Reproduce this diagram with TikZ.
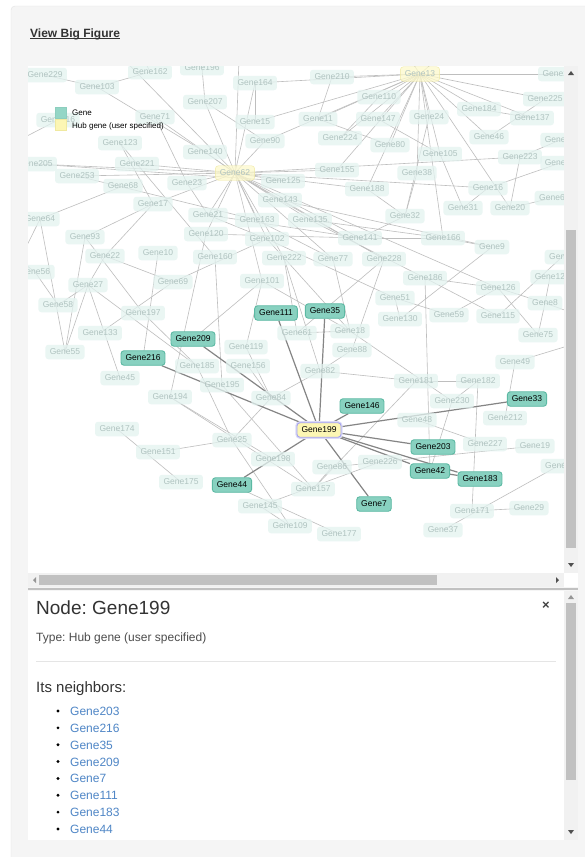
\documentclass[tikz,border=0pt]{standalone}
\usepackage{fontspec}
\setmainfont{Liberation Sans}
\frenchspacing
\definecolor{panelgray}{HTML}{F5F5F5}
\definecolor{panelline}{HTML}{E3E3E3}
\definecolor{genefill}{HTML}{E3F3F0}
\definecolor{genetext}{HTML}{B0C3C0}
\definecolor{geneteal}{HTML}{88D1C0}
\definecolor{genetealdark}{HTML}{5CB9A3}
\definecolor{hubfill}{HTML}{FCF6B4}
\definecolor{hubline}{HTML}{F0E9A0}
\definecolor{hubglow}{HTML}{A4A2EE}
\definecolor{linkgray}{HTML}{BEBEBE}
\definecolor{hotgray}{HTML}{858585}
\definecolor{trackgray}{HTML}{F1F1F1}
\definecolor{thumbgray}{HTML}{C1C1C1}
\definecolor{arrowgray}{HTML}{505050}
\definecolor{headgray}{HTML}{333333}
\definecolor{linkblue}{HTML}{4F86C6}
\newcommand{\genefont}{\fontsize{8.5}{9}\selectfont}
\pgfdeclarelayer{panel}
\pgfdeclarelayer{edges}
\pgfsetlayers{panel,edges,main}
\tikzset{
  gene/.style = {rounded corners=3pt, fill=genefill, fill opacity=0.75, text opacity=1,
                 text=genetext, font=\genefont, inner xsep=4.5pt, inner ysep=0pt, minimum height=14.5pt},
  hubfaded/.style = {gene, fill=hubfill!70, draw=hubline},
  genehot/.style = {gene, fill=geneteal, fill opacity=1, draw=genetealdark, line width=0.9pt, text=black},
  hubhot/.style = {genehot, fill=hubfill, draw=hubglow, preaction={draw=hubglow!40, line width=3.2pt}},
  link/.style = {draw=linkgray, line width=0.6pt},
  hotlink/.style = {draw=hotgray, line width=1.2pt},
  label/.style = {anchor=base west, inner sep=0pt, text=headgray},
  item/.style = {label, text=linkblue, font=\fontsize{12}{14}\selectfont}
}

\begin{document}
\begin{tikzpicture}[x=1pt, y=-1pt]
  \useasboundingbox (0,0) rectangle (584,857);
  \begin{pgfonlayer}{panel}
    \fill[white] (0,0) rectangle (584,857);
    \draw[panelline, fill=panelgray, rounded corners=4pt] (11,6) rectangle (610,880);
    \fill[white] (28,66) rectangle (564,573);
    \fill[white] (28,591) rectangle (564,840);
  \end{pgfonlayer}

  \node[label, font=\bfseries\fontsize{12}{14}\selectfont] (viewbig) at (30,37) {View Big Figure};
  \draw[headgray, line width=0.8pt] ([yshift=-1.6pt]viewbig.base west) -- ([yshift=-1.6pt]viewbig.base east);

  % network
  \begin{scope}
    \clip (28,66) rectangle (564,573);
    \foreach \n/\x/\y in {229/45/75, 162/150/72, 196/202/68, 103/97/87, 164/255/83, 207/205/102,
        71/155/117, 116/58/120, 15/255/122, 123/120/143, 90/265/141, 140/205/152, 205/35/164,
        221/137/164, 253/77/176, 23/187/183, 68/123/186, 125/283/181, 143/280/200, 17/153/204,
        64/40/219, 21/208/215, 163/257/220, 93/85/237, 120/206/234, 102/267/239, 22/105/256,
        10/158/253, 160/215/257, 222/284/258, 56/35/272, 27/88/285, 69/173/282, 101/262/281,
        58/58/305, 197/143/313, 133/100/333, 55/65/352, 119/246/347, 185/197/366, 156/248/366,
        45/120/378, 195/222/385, 194/170/397, 84/271/398,
        210/332/77, 232/560/74, 110/379/97, 225/545/99, 184/479/109, 11/318/119, 147/378/119,
        24/429/117, 137/532/118, 224/340/138, 46/489/137, 26/560/140, 80/390/145, 105/440/154,
        223/520/157, 81/560/163, 155/337/170, 38/417/173, 188/367/189, 16/488/188, 6/552/198,
        31/463/208, 20/510/208, 32/405/216, 135/310/220, 141/360/238, 166/443/238, 9/492/247,
        77/333/259, 228/384/259, 4/562/257, 186/425/278, 12/550/277, 126/498/288, 51/395/298,
        8/545/303, 130/400/319, 59/449/315, 115/498/316, 61/297/333, 18/350/331, 75/538/335,
        88/352/350, 82/320/371, 49/515/362, 181/416/381, 182/478/381, 230/452/401,
        48/417/420, 212/505/418, 227/485/444, 19/535/446, 226/380/462, 86/332/467, 5/558/466,
        157/313/489, 171/472/511, 29/529/508, 109/290/526, 37/443/530, 177/339/534,
        174/117/429, 151/158/452, 25/232/440, 198/273/459, 175/181/482, 145/260/506}
      \node[gene] (g\n) at (\x,\y) {Gene\n};
    \node[hubfaded] (g62) at (235,173) {Gene62};
    \node[hubfaded] (g13) at (420,74) {Gene13};

    \node[genehot] (g111) at (276,313) {Gene111};
    \node[genehot] (g35) at (325,311) {Gene35};
    \node[genehot] (g209) at (193,339) {Gene209};
    \node[genehot] (g216) at (143,358) {Gene216};
    \node[genehot] (g146) at (362,406) {Gene146};
    \node[genehot] (g33) at (527,399) {Gene33};
    \node[genehot] (g203) at (433,447) {Gene203};
    \node[genehot] (g42) at (430,471) {Gene42};
    \node[genehot] (g183) at (480,479) {Gene183};
    \node[genehot] (g7) at (374,504) {Gene7};
    \node[genehot] (g44) at (232,485) {Gene44};
    \node[hubhot] (g199) at (319,430) {Gene199};

    % legend
    \draw[genetealdark!70, fill=geneteal!90] (55,107) rectangle (66,118);
    \draw[hubline, fill=hubfill] (55,119) rectangle (66,130);
    \node[label, text=black, font=\fontsize{8}{9}\selectfont] (leggene) at (72,115) {Gene};
    \node[label, text=black, font=\fontsize{8}{9}\selectfont] (leghub) at (72,128) {Hub gene (user specified)};
  \end{scope}

  \coordinate (a1) at (95,30);
  \coordinate (a2) at (130,30);
  \coordinate (a5) at (470,30);
  \coordinate (a8) at (620,200);
  \coordinate (a9) at (620,330);
  \coordinate (a10) at (620,430);
  \coordinate (a11) at (0,300);
  \coordinate (a12) at (0,150);
  \coordinate (a13) at (0,245);
  \coordinate (a14) at (240,30);
  \coordinate (a16) at (390,30);

  \begin{pgfonlayer}{edges}
    \clip (28,66) rectangle (564,573);
    \foreach \a/\b in {g62/g205, g62/g253, g62/g23, g62/g140, g62/g71, g62/g221, g62/g17, g62/g21,
        g62/g163, g62/g143, g62/g125, g62/g155, g62/g102, g62/g141, g62/g77, g62/g222, g62/g135,
        g62/g228, g62/g120, g62/g188, g62/g90, g62/g207, g62/g164, g62/a1, g62/a14, g62/g101,
        g62/g16, g62/g126, g62/g223,
        g13/g110, g13/g147, g13/g24, g13/g224, g13/g80, g13/g184, g13/g225, g13/g137, g13/g11,
        g13/g105, g13/g46, g13/g210, g13/g166, g13/g188, g13/g155, g13/g232, g13/g20, g13/g38,
        g13/a16, g13/a5, g13/g164, g13/g15, g13/g90,
        g229/g103, g162/a2, g162/g103, g196/g207, g196/a14, g103/g140, g164/g15, g207/g90,
        g71/g23, g116/a12, g123/g17, g205/g125, g253/g163, g68/g64, g64/g55, g64/a11, g93/g55,
        g93/g197, g17/g22, g17/g93, g221/g160, g123/g221, g23/g21, g21/g102, g21/g141,
        g120/g194, g120/g141, g163/g77, g143/g228, g143/g9, g102/g51, g135/g166, g135/g186,
        g102/g18, g10/g216, g160/g195, g22/g69, g69/g133, g69/g102, g101/g209, g101/g119,
        g27/g58, g27/g45, g27/g55, g27/g185, g27/g22, g56/g58, g56/a13, g197/g185, g119/g84,
        g156/g84, g185/g25, g195/g157, g194/g198, g222/g82, g222/g61, g101/g18, g77/g18,
        g228/g61, g228/g88, g141/g166, g166/g9, g9/g130, g51/g130, g51/g59, g186/g126,
        g126/g8, g126/g75, g115/g4, g75/g8, g59/g126, g12/g8, g8/a9, g4/a8, g26/g223,
        g81/g16, g184/g137, g225/g46, g223/g20, g31/g16, g20/g6, g38/g32, g105/g31, g186/g42,
        g32/g141, g32/g188, g110/g224, g11/g80, g147/g105, g24/g32, g210/g11, g18/g230,
        g88/g82, g82/g181, g181/g157, g181/g182, g49/g212, g49/a9, g182/g230, g182/g171,
        g230/g42, g48/g227, g86/g19, g226/g145, g157/g86, g37/g5, g171/g29, g5/a10,
        g174/g175, g151/g25, g25/g84, g25/g109, g44/g177, g145/g109, g194/g157, g61/g18,
        g82/g84, g115/g186}
      \draw[link] (\a.center) -- (\b.center);
    \foreach \b in {g111, g35, g209, g216, g146, g33, g203, g42, g183, g7, g44}
      \draw[hotlink] (g199) -- (\b);
    \draw[hotlink] (g42) -- (g183);
  \end{pgfonlayer}

  % scroll bars
  \fill[trackgray] (564,66) rectangle (578,573);
  \fill[thumbgray] (566,230) rectangle (576,548);
  \fill[arrowgray] (568,75) -- (574,75) -- (571,71) -- cycle;
  \fill[arrowgray] (568,563) -- (574,563) -- (571,567) -- cycle;
  \fill[trackgray] (28,573) rectangle (564,587);
  \fill[thumbgray] (39,575) rectangle (437,585);
  \fill[arrowgray!60] (36,577) -- (36,583) -- (33,580) -- cycle;
  \fill[arrowgray] (556,577) -- (556,583) -- (559,580) -- cycle;
  \fill[white] (564,573) rectangle (578,587);
  \draw[thumbgray, line width=2pt] (28,589) -- (578,589);
  \fill[trackgray] (564,591) rectangle (578,840);
  \fill[thumbgray] (566,603) rectangle (576,780);
  \fill[arrowgray!60] (568,599) -- (574,599) -- (571,595) -- cycle;
  \fill[arrowgray] (568,830) -- (574,830) -- (571,834) -- cycle;

  % node details
  \node[label, font=\fontsize{19}{22}\selectfont] (title) at (36,614) {Node: Gene199};
  \node[label, text=black!75, font=\bfseries\fontsize{13}{14}\selectfont] (close) at (542,609) {×};
  \node[label, text=black!70, font=\fontsize{12}{14}\selectfont] (type) at (36,641) {Type: Hub gene (user specified)};
  \draw[black!10] (36,661) -- (556,661);
  \node[label, font=\fontsize{15}{17}\selectfont] (nbhead) at (36,692) {Its neighbors:};
  \foreach \g [count=\i from 0] in {203,216,35,209,7,111,183,44} {
    \fill[black] (58,{711+16.85*\i}) circle (1.6);
    \node[item] (nb\g) at (70,{715.5+16.85*\i}) {Gene\g};
  }
\end{tikzpicture}
\end{document}
